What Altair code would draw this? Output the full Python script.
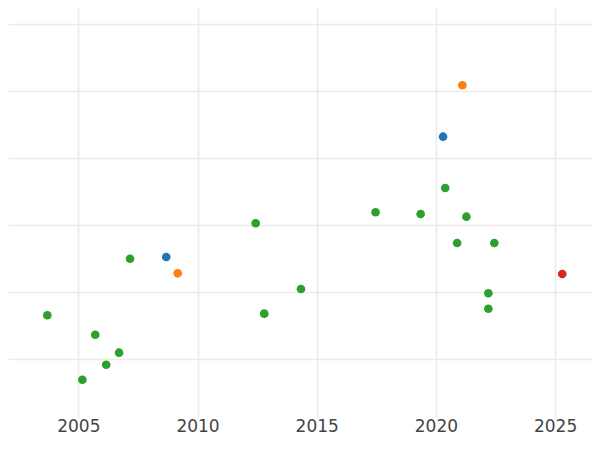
import altair as alt
import pandas as pd

categories = ["A", "A", "B", "B", "C", "C", "C", "C", "C", "C", "C", "C", "C",
              "C", "C", "C", "C", "C", "C", "C", "C", "D"]
years = [2008.69, 2020.30, 2009.17, 2021.11,
         2003.70, 2005.17, 2005.71, 2006.17, 2006.71, 2007.17, 2012.44, 2012.80,
         2014.34, 2017.47, 2019.36, 2020.39, 2020.89, 2021.28, 2022.20, 2022.20,
         2022.45, 2025.30]
values = [2.526, 4.320, 2.283, 5.087,
          1.657, 0.696, 1.367, 0.920, 1.099, 2.500, 3.029, 1.681,
          2.049, 3.193, 3.167, 3.555, 2.735, 3.127, 1.985, 1.755,
          2.735, 2.273]
x_ticks = [2005, 2010, 2015, 2020, 2025]
y_grid = [1, 2, 3, 4, 5, 6]
palette = ["#1f77b4", "#ff7f0e", "#2ca02c", "#d62728"]

df = pd.DataFrame({"category": categories, "year": years, "value": values})

chart = alt.Chart(df).mark_circle(size=75, opacity=1).encode(
    x=alt.X("year:Q",
            scale=alt.Scale(domain=[2002.051, 2026.548], nice=False, zero=False),
            axis=alt.Axis(values=x_ticks, format="d", title=None, grid=True,
                          ticks=False, domain=False, labelFontSize=17,
                          labelFont="DejaVu Sans", labelColor="#444444",
                          labelPadding=0, gridColor="#ebebeb", gridWidth=1.6,
                          labelFlush=False)),
    y=alt.Y("value:Q",
            scale=alt.Scale(domain=[0.1253, 6.239], nice=False, zero=False),
            axis=alt.Axis(values=y_grid, title=None, grid=True, labels=False,
                          ticks=False, domain=False, gridColor="#ebebeb",
                          gridWidth=1.6)),
    color=alt.Color("category:N", scale=alt.Scale(domain=["A", "B", "C", "D"], range=palette),
                    legend=None),
).properties(
    width=584, height=410,
    autosize=alt.AutoSizeParams(type="none"),
    padding={"left": 0, "top": 0, "right": 0, "bottom": 18},
).configure_view(stroke=None)

chart.save("out.html", embed_options={"renderer": "svg", "actions": False})
